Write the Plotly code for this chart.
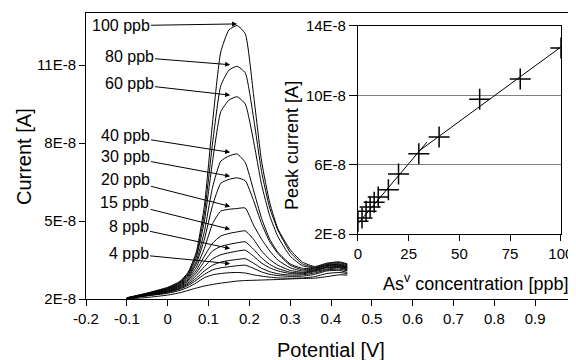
import plotly.graph_objects as go

# Potential grid [V]
potential = [-0.10, -0.05, 0.00, 0.03, 0.05, 0.07, 0.09, 0.11, 0.13, 0.15, 0.17,
             0.19, 0.21, 0.23, 0.25, 0.27, 0.30, 0.33, 0.36, 0.39, 0.42, 0.44]

# Voltammetric current curves, in units of 1E-8 A
i_0ppb = [2.00, 2.06, 2.15, 2.24, 2.33, 2.42, 2.50, 2.56, 2.61, 2.65, 2.69, 2.71, 2.72, 2.73, 2.74, 2.75, 2.77, 2.79, 2.80, 2.86, 2.93, 2.92]
i_2ppb = [2.02, 2.12, 2.22, 2.33, 2.45, 2.62, 2.82, 2.93, 2.98, 3.01, 3.02, 3.00, 2.93, 2.88, 2.84, 2.81, 2.80, 2.81, 2.86, 2.98, 3.02, 2.98]
i_4ppb = [2.02, 2.13, 2.25, 2.38, 2.52, 2.72, 2.95, 3.12, 3.20, 3.24, 3.28, 3.30, 3.18, 3.04, 2.95, 2.90, 2.87, 2.88, 2.95, 3.08, 3.10, 3.02]
i_6ppb = [2.02, 2.14, 2.27, 2.41, 2.57, 2.80, 3.08, 3.30, 3.42, 3.48, 3.52, 3.55, 3.38, 3.18, 3.05, 2.97, 2.92, 2.93, 3.00, 3.12, 3.15, 3.08]
i_8ppb = [2.02, 2.15, 2.29, 2.44, 2.62, 2.90, 3.25, 3.55, 3.70, 3.78, 3.84, 3.88, 3.65, 3.38, 3.20, 3.08, 2.98, 2.97, 3.05, 3.15, 3.20, 3.12]
i_10ppb = [2.03, 2.16, 2.31, 2.47, 2.68, 3.00, 3.45, 3.85, 4.02, 4.10, 4.16, 4.20, 3.92, 3.58, 3.33, 3.17, 3.03, 3.00, 3.08, 3.20, 3.22, 3.15]
i_15ppb = [2.03, 2.17, 2.33, 2.50, 2.73, 3.10, 3.65, 4.15, 4.42, 4.52, 4.58, 4.62, 4.30, 3.85, 3.52, 3.30, 3.10, 3.03, 3.10, 3.22, 3.25, 3.18]
i_20ppb = [2.03, 2.18, 2.35, 2.53, 2.78, 3.22, 3.95, 4.90, 5.38, 5.45, 5.48, 5.50, 4.85, 4.30, 3.85, 3.50, 3.20, 3.08, 3.12, 3.25, 3.28, 3.20]
i_30ppb = [2.03, 2.19, 2.37, 2.56, 2.83, 3.35, 4.30, 5.60, 6.45, 6.60, 6.66, 6.55, 5.80, 4.90, 4.20, 3.75, 3.30, 3.13, 3.15, 3.28, 3.30, 3.22]
i_40ppb = [2.04, 2.20, 2.39, 2.59, 2.88, 3.45, 4.60, 6.30, 7.30, 7.50, 7.58, 7.25, 6.20, 5.10, 4.30, 3.80, 3.35, 3.18, 3.18, 3.30, 3.33, 3.25]
i_60ppb = [2.04, 2.21, 2.41, 2.62, 2.93, 3.60, 5.00, 7.30, 9.20, 9.65, 9.78, 9.50, 8.10, 6.40, 5.20, 4.40, 3.65, 3.28, 3.20, 3.32, 3.36, 3.28]
i_80ppb = [2.04, 2.22, 2.43, 2.65, 2.98, 3.70, 5.30, 8.00, 10.20, 10.80, 10.95, 10.70, 9.00, 6.90, 5.50, 4.65, 3.80, 3.35, 3.22, 3.35, 3.40, 3.32]
i_100ppb = [2.05, 2.23, 2.45, 2.68, 3.03, 3.80, 5.60, 8.80, 11.50, 12.35, 12.52, 12.20, 9.90, 7.30, 5.70, 4.70, 3.90, 3.42, 3.25, 3.38, 3.43, 3.35]

curves = [i_0ppb, i_2ppb, i_4ppb, i_6ppb, i_8ppb, i_10ppb, i_15ppb, i_20ppb,
          i_30ppb, i_40ppb, i_60ppb, i_80ppb, i_100ppb]

# Calibration inset: As(V) concentration [ppb] vs peak current [1E-8 A]
conc = [0, 2, 4, 6, 8, 10, 15, 20, 30, 40, 60, 80, 100]
peak = [2.74, 2.93, 3.31, 3.56, 3.83, 4.14, 4.56, 5.46, 6.63, 7.59, 9.77, 10.94, 12.72]
fit_low_x = [0, 34]
fit_low_y = [2.6, 7.3]
fit_high_x = [30, 100]
fit_high_y = [6.78, 12.78]

main_yticks = [2, 5, 8, 11]
main_yticktext = ["2E-8", "5E-8", "8E-8", "11E-8"]
main_xticks = [-0.2, -0.1, 0, 0.1, 0.2, 0.3, 0.4, 0.5, 0.6, 0.7, 0.8, 0.9, 1.0]
main_xticktext = ["-0.2", "-0.1", "0", "0.1", "0.2", "0.3", "0.4", "0.5", "0.6", "0.7", "0.8", "0.9", "1"]
inset_yticks = [2, 6, 10, 14]
inset_yticktext = ["2E-8", "6E-8", "10E-8", "14E-8"]
inset_xticks = [0, 25, 50, 75, 100]

# labelled curves: (label, curve, text x, text y, arrow tip x)
labels = [
    ("100 ppb", i_100ppb, -0.1155, 12.51, 0.170),
    ("80 ppb", i_80ppb, -0.0946, 11.32, 0.153),
    ("60 ppb", i_60ppb, -0.0946, 10.28, 0.153),
    ("40 ppb", i_40ppb, -0.1044, 8.28, 0.153),
    ("30 ppb", i_30ppb, -0.1044, 7.47, 0.153),
    ("20 ppb", i_20ppb, -0.1044, 6.59, 0.153),
    ("15 ppb", i_15ppb, -0.1056, 5.70, 0.153),
    ("8 ppb", i_8ppb, -0.0958, 4.78, 0.153),
    ("4 ppb", i_4ppb, -0.0958, 3.74, 0.153),
]

FONT = "Liberation Sans, Arial, sans-serif"

fig = go.Figure()
for c in curves:
    fig.add_trace(go.Scatter(x=potential, y=c, mode="lines",
                             line=dict(color="black", width=1, shape="spline", smoothing=0.5),
                             hoverinfo="skip", showlegend=False))

fig.add_trace(go.Scatter(x=fit_low_x, y=fit_low_y, mode="lines", xaxis="x2", yaxis="y2",
                         line=dict(color="black", width=1), showlegend=False))
fig.add_trace(go.Scatter(x=fit_high_x, y=fit_high_y, mode="lines", xaxis="x2", yaxis="y2",
                         line=dict(color="black", width=1), showlegend=False))
fig.add_trace(go.Scatter(x=conc, y=peak, mode="markers", xaxis="x2", yaxis="y2",
                         marker=dict(symbol="cross-thin", size=15, color="black",
                                     line=dict(color="black", width=1.5)),
                         showlegend=False))

annotations = []
for text, c, tx, ty, tipx in labels:
    annotations.append(dict(
        x=tipx, y=max(c) + 0.06, xref="x", yref="y",
        ax=tx, ay=ty, axref="x", ayref="y",
        text=text, showarrow=True, arrowhead=2, arrowsize=1, arrowwidth=1,
        arrowcolor="black", font=dict(family=FONT, size=16, color="black"),
        xanchor="center", yanchor="middle"))

annotations += [
    dict(text="Potential [V]", x=0.5, y=-0.178, xref="paper", yref="paper",
         showarrow=False, font=dict(family=FONT, size=20, color="black"),
         xanchor="center", yanchor="middle"),
    dict(text="Current [A]", x=-0.1265, y=0.4965, xref="paper", yref="paper",
         showarrow=False, textangle=-90, font=dict(family=FONT, size=20, color="black"),
         xanchor="center", yanchor="middle"),
    dict(text="Peak current [A]", x=0.420, y=0.538, xref="paper", yref="paper",
         showarrow=False, textangle=-90, font=dict(family=FONT, size=18, color="black"),
         xanchor="center", yanchor="middle"),
    dict(text="As<sup>v</sup> concentration [ppb]", x=0.794, y=0.0594, xref="paper", yref="paper",
         showarrow=False, font=dict(family=FONT, size=18, color="black"),
         xanchor="center", yanchor="middle"),
]

# The page body has an 8px margin, so the figure is sized/offset to compensate.
fig.update_layout(
    width=568, height=352, template="none",
    margin=dict(l=78, r=0, t=5, b=61, pad=0),
    paper_bgcolor="white", plot_bgcolor="white",
    font=dict(family=FONT, size=15, color="black"),
    showlegend=False,
    xaxis=dict(range=[-0.2, 1.0], domain=[0, 1], tickvals=main_xticks, ticktext=main_xticktext,
               ticks="outside", ticklen=6, tickcolor="black", showline=True, linecolor="black",
               linewidth=1, mirror=True, showgrid=False, zeroline=False, automargin=False,
               tickfont=dict(size=15)),
    yaxis=dict(range=[2, 13], domain=[0, 1], tickvals=main_yticks, ticktext=main_yticktext,
               ticks="outside", ticklen=6, tickcolor="black", showline=True, linecolor="black",
               linewidth=1, showgrid=False, zeroline=False, automargin=False,
               tickfont=dict(size=15)),
    xaxis2=dict(range=[0, 100], domain=[0.555, 0.969], anchor="y2", tickvals=inset_xticks,
                ticks="outside", ticklen=6, tickcolor="black", showline=True, linecolor="black",
                linewidth=1, mirror=True, showgrid=False, zeroline=False, automargin=False,
                tickfont=dict(size=15)),
    yaxis2=dict(range=[2, 14], domain=[0.227, 0.955], anchor="x2", tickvals=inset_yticks,
                ticktext=inset_yticktext, ticks="outside", ticklen=8, tickcolor="black",
                showline=True, linecolor="black", linewidth=1, mirror=True,
                showgrid=True, gridcolor="#808080", gridwidth=1, zeroline=False,
                automargin=False, tickfont=dict(size=15)),
    annotations=annotations,
)

fig.write_html("out.html")
